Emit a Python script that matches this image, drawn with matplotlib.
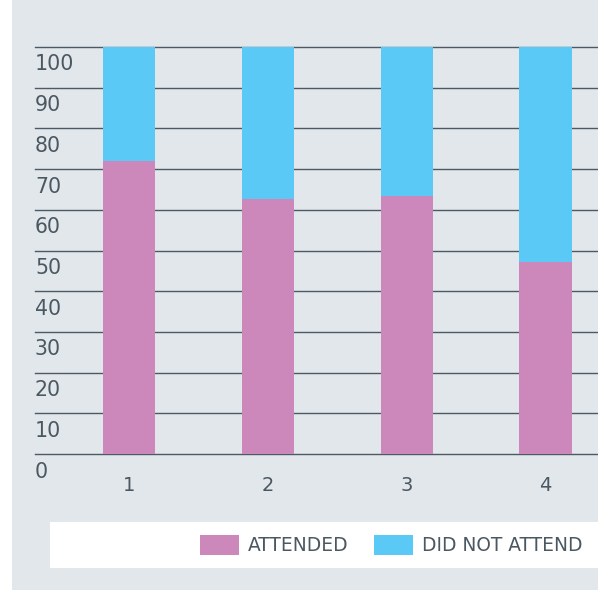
import matplotlib
matplotlib.use("Agg")
import matplotlib.pyplot as plt
from matplotlib.patches import Rectangle, Patch
from matplotlib.transforms import blended_transform_factory, offset_copy

categories = ["1", "2", "3", "4"]
attended = [72, 62.7, 63.5, 47.2]
did_not_attend = [100 - a for a in attended]
yticks = [0, 10, 20, 30, 40, 50, 60, 70, 80, 90, 100]
series_names = ["ATTENDED", "DID NOT ATTEND"]

PINK = "#cc88bb"
BLUE = "#5bc9f6"
BG = "#e2e7eb"
GRID = "#4d5a64"
TXT = "#4a5862"

W, H = 598, 591
fig = plt.figure(figsize=(W / 100, H / 100), dpi=100, facecolor="white")
plt.rcParams["font.family"] = ["DejaVu Sans"]

# gray panel
fig.patches.append(Rectangle((12 / W, 1 - 590 / H), 1 - 12 / W, 590 / H,
                             transform=fig.transFigure, facecolor=BG,
                             edgecolor="none", zorder=-10))
# white legend strip
fig.patches.append(Rectangle((50 / W, 1 - 568 / H), 1 - 50 / W, 46 / H,
                             transform=fig.transFigure, facecolor="white",
                             edgecolor="none", zorder=-5))

ax = fig.add_axes([35 / W, 1 - 454 / H, 1 - 35 / W, (454 - 47) / H])
ax.set_facecolor("none")
x = list(range(1, len(categories) + 1))
ax.bar(x, attended, width=0.375, color=PINK, zorder=3)
ax.bar(x, did_not_attend, bottom=attended, width=0.375, color=BLUE, zorder=3)

for v in yticks:
    ax.axhline(v, color=GRID, lw=1.0, zorder=1, clip_on=False)

ax.set_ylim(0, 100)
ax.set_xlim(0.323, 4.378)
for s in ax.spines.values():
    s.set_visible(False)
ax.set_yticks([])
ax.set_xticks(x)
ax.set_xticklabels(categories, fontsize=14, color=TXT)
ax.tick_params(axis="x", length=0, pad=15.5)

trans = blended_transform_factory(ax.transAxes, ax.transData)
trans = offset_copy(trans, fig=fig, x=0, y=-23.5, units="dots")
for v in yticks:
    ax.text(0, v, str(v), transform=trans, ha="left", va="baseline",
            fontsize=14.8, color=TXT, clip_on=False)

handles = [Patch(facecolor=PINK, edgecolor="none"),
           Patch(facecolor=BLUE, edgecolor="none")]
leg = fig.legend(handles, series_names, loc="center left",
                 bbox_to_anchor=(200 / W, 1 - 545 / H), ncol=2, frameon=False,
                 fontsize=13.4, handlelength=2.1, handleheight=1.35,
                 handletextpad=0.45, columnspacing=1.4, borderpad=0,
                 borderaxespad=0)
for t in leg.get_texts():
    t.set_color(TXT)

fig.savefig("out.png", dpi=100, facecolor="white")
